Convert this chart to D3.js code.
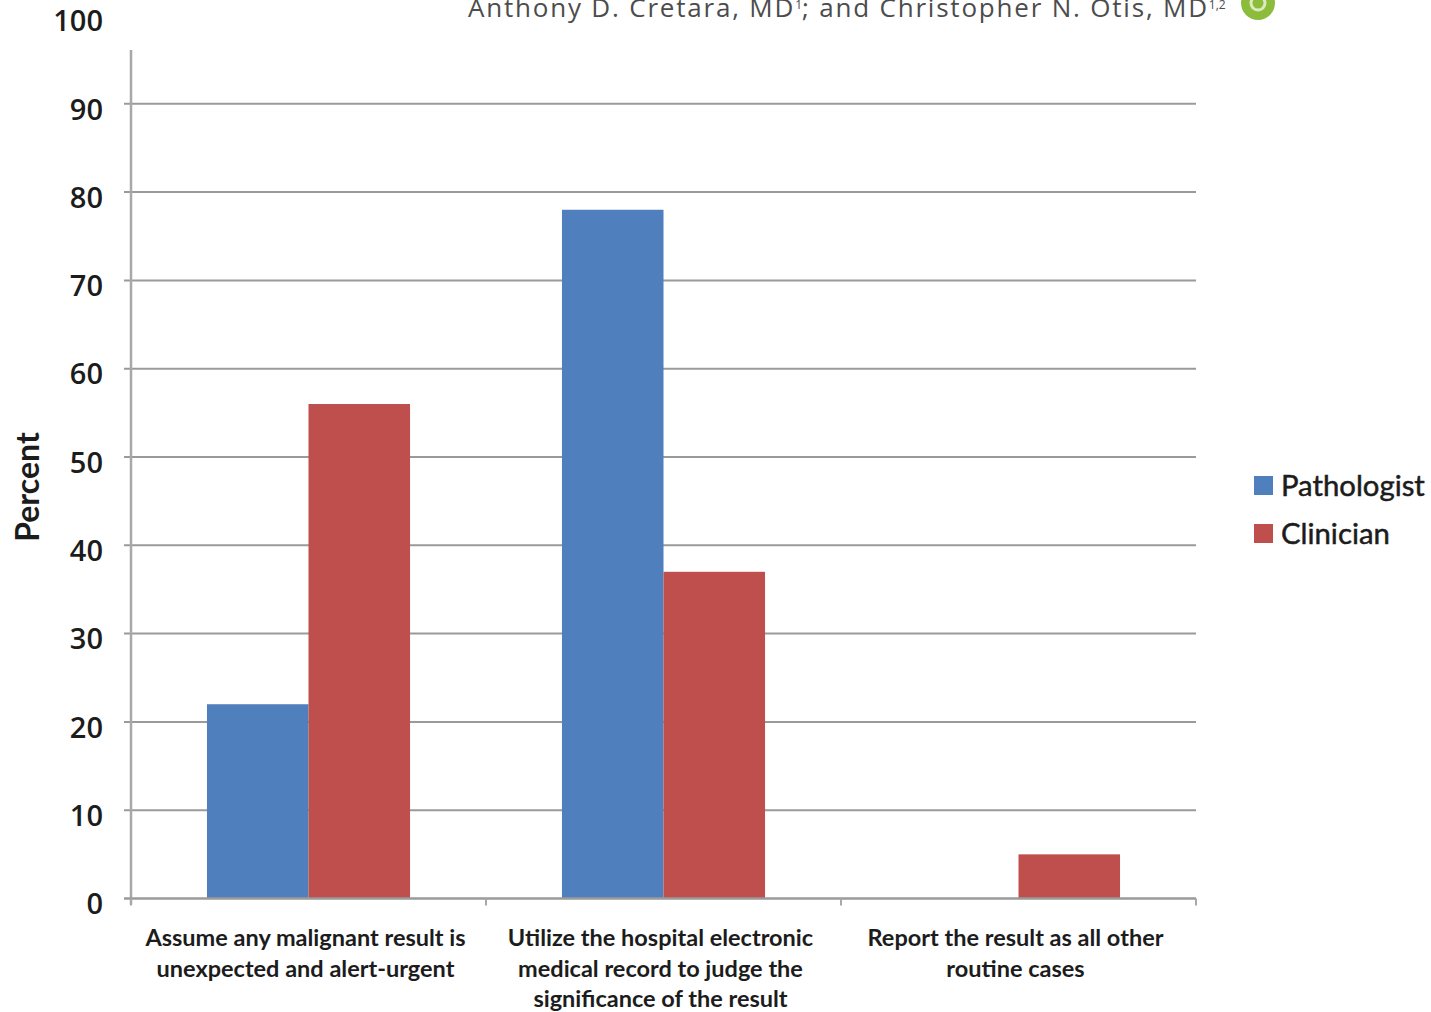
<!DOCTYPE html>
<html>
<head>
<meta charset="utf-8">
<script src="https://cdn.jsdelivr.net/npm/d3@7"></script>
<style>
  html, body { margin: 0; padding: 0; background: #fff; }
  svg { display: block; }
  text { font-family: Lato, "Open Sans", sans-serif; fill: #1c1c1c; }
</style>
</head>
<body>
<svg id="chart" width="1431" height="1012"></svg>
<script>
// Chart content
const categories = [
  ["Assume any malignant result is", "unexpected and alert-urgent"],
  ["Utilize the hospital electronic", "medical record to judge the", "significance of the result"],
  ["Report the result as all other", "routine cases"]
];
const seriesNames = ["Pathologist", "Clinician"];
const pathologist = [22, 78, 0];
const clinician = [56, 37, 5];
const yTicks = [0, 10, 20, 30, 40, 50, 60, 70, 80, 90, 100];
const gridTicks = [10, 20, 30, 40, 50, 60, 70, 80, 90];
const yTitle = "Percent";
const bylineParts = ["Anthony D. Cretara, MD", "1", "; and Christopher N. Otis, MD", "1,2"];
const colors = ["#4f7fbc", "#bf4f4c"];

const svg = d3.select("#chart");
const plot = { left: 131, right: 1196, top: 50, bottom: 898.5 };

const x = d3.scaleBand().domain(d3.range(categories.length))
  .range([plot.left, plot.right]).paddingInner(0.428).paddingOuter(0.214);
const inner = d3.scaleBand().domain(seriesNames).range([0, x.bandwidth()]);
const y = d3.scaleLinear().domain([0, 100]).range([plot.bottom, plot.bottom - 883]);

// Horizontal grid lines
svg.append("g").selectAll("line").data(gridTicks).join("line")
  .attr("x1", plot.left - 7).attr("x2", plot.right)
  .attr("y1", d => y(d)).attr("y2", d => y(d))
  .attr("stroke", "#9a9a9a").attr("stroke-width", 2);

// Value axis: labels come from the axis generator, the line stops below the byline
const yAxis = svg.append("g")
  .attr("transform", `translate(${plot.left},6)`)
  .call(d3.axisLeft(y).tickValues(yTicks).tickSize(0).tickPadding(28));
yAxis.select(".domain").remove();
yAxis.selectAll("text")
  .style("font-family", "'Open Sans', sans-serif")
  .style("font-size", "29px").style("font-weight", 600);
svg.append("line")
  .attr("x1", plot.left).attr("x2", plot.left)
  .attr("y1", plot.top).attr("y2", plot.bottom + 6)
  .attr("stroke", "#a8a8a8").attr("stroke-width", 2.5);

// Bars
const series = [pathologist, clinician];
series.forEach((vals, s) => {
  svg.append("g").attr("class", "series").selectAll("rect")
    .data(vals).join("rect")
    .attr("x", (d, i) => x(i) + inner(seriesNames[s]))
    .attr("width", inner.bandwidth())
    .attr("y", d => y(d))
    .attr("height", d => y(0) - y(d))
    .attr("fill", colors[s]);
});

// Category axis
const band = x.step();
svg.append("line")
  .attr("x1", plot.left - 7).attr("x2", plot.right)
  .attr("y1", y(0)).attr("y2", y(0))
  .attr("stroke", "#9a9a9a").attr("stroke-width", 2.5);
svg.append("g").selectAll("line")
  .data(d3.range(categories.length + 1)).join("line")
  .attr("x1", i => plot.left + i * band).attr("x2", i => plot.left + i * band)
  .attr("y1", y(0)).attr("y2", y(0) + 7)
  .attr("stroke", "#a8a8a8").attr("stroke-width", 2);

const catLabels = svg.append("g").selectAll("text").data(categories).join("text")
  .attr("text-anchor", "middle")
  .style("font-size", "23.5px").style("font-weight", 700);
catLabels.each(function (lines, i) {
  d3.select(this).selectAll("tspan").data(lines).join("tspan")
    .attr("x", x(i) + x.bandwidth() / 2 - 3)
    .attr("y", (d, j) => 946 + j * 30.7)
    .text(d => d);
});

// Axis title
svg.append("text")
  .attr("transform", "translate(39,487) rotate(-90)")
  .attr("text-anchor", "middle")
  .style("font-size", "32px").style("font-weight", 700)
  .text(yTitle);

// Legend
const legend = svg.append("g").selectAll("g").data(seriesNames).join("g")
  .attr("transform", (d, i) => `translate(1254,${476 + i * 48})`);
legend.append("rect").attr("width", 19).attr("height", 19)
  .attr("fill", (d, i) => colors[i]);
legend.append("text").attr("x", 27).attr("y", 20)
  .style("font-size", "29.3px").style("font-weight", 400)
  .style("stroke", "#1c1c1c").style("stroke-width", 0.5)
  .text(d => d);

// Byline across the top edge, with its ORCID badge
const byline = svg.append("text").attr("x", 468).attr("y", 17)
  .style("font-family", "'Open Sans', sans-serif").style("font-size", "26px")
  .style("letter-spacing", "1.8px")
  .style("fill", "#4c4c4c");
bylineParts.forEach((p, i) => {
  const t = byline.append("tspan").text(p);
  if (i % 2 === 1) t.attr("dy", -8).style("font-size", "12px").style("letter-spacing", "0");
  else if (i > 0) t.attr("dy", 8);
});
svg.append("circle").attr("cx", 1258).attr("cy", 3).attr("r", 17).attr("fill", "#8cbc3c");
svg.append("circle").attr("cx", 1258).attr("cy", 3).attr("r", 7).attr("fill", "none")
  .attr("stroke", "#dcebbd").attr("stroke-width", 3);
</script>
</body>
</html>
